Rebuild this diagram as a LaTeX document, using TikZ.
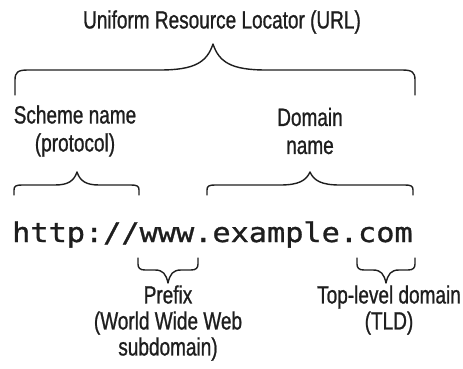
\documentclass[tikz,border=0pt]{standalone}
\usepackage{fontspec}
\newfontfamily\condfont[FakeStretch=0.76,FakeBold=0.9]{Liberation Sans}
\newfontfamily\urlfont[FakeStretch=1.12,FakeBold=1.1]{DejaVu Sans Mono}
\definecolor{ink}{HTML}{1E1E1E}
\begin{document}
\begin{tikzpicture}[x=1pt,y=-1pt,
  lbl/.style={font=\condfont\fontsize{25}{26}\selectfont, text=ink, align=center, inner sep=0pt},
  lbltop/.style={font=\condfont\fontsize{25}{28}\selectfont, text=ink, align=center, inner sep=0pt},
  brc/.style={draw=ink, line width=1.4pt, line cap=round, line join=round}]
\useasboundingbox (0,0) rectangle (463,369);
% labels
\node[lbl] (url) at (222,22) {Uniform Resource Locator (URL)};
\node[lbltop] (scheme) at (75,131) {Scheme name\\(protocol)};
\node[lbltop] (domain) at (310,131) {Domain\\name};
\node[lbl] (prefix) at (168,323) {Prefix\\(World Wide Web\\subdomain)};
\node[lbl] (tld) at (389,310) {Top-level domain\\(TLD)};
\node[font=\urlfont\fontsize{27}{30}\selectfont, text=ink, inner sep=0pt, anchor=base west] (addr) at (12,242) {http://www.example.com};
% braces
\path[brc] (15,95) -- (15,80) .. controls (15,72) and (18,70) .. (28,70) -- (160,70) .. controls (195,70) and (207,62) .. (213,44) .. controls (219,62) and (231,70) .. (266,70) -- (402,70) .. controls (412,70) and (415,72) .. (415,80) -- (415,95);
\path[brc] (14,195) -- (14,190) .. controls (14,186) and (16,185) .. (22,185) -- (55,185) .. controls (68,185) and (74,181) .. (77,172) .. controls (80,181) and (86,185) .. (99,185) -- (131,185) .. controls (137,185) and (139,186) .. (139,190) -- (139,195);
\path[brc] (207,195) -- (207,190) .. controls (207,186) and (209,185) .. (215,185) -- (280,185) .. controls (298,185) and (306,181) .. (310,172) .. controls (314,181) and (322,185) .. (340,185) -- (405,185) .. controls (411,185) and (413,186) .. (413,190) -- (413,195);
\path[brc] (138,258) -- (138,264) .. controls (138,268) and (140,270) .. (145,270) -- (155,270) .. controls (163,270) and (166,274) .. (168,283) .. controls (170,274) and (173,270) .. (181,270) -- (191,270) .. controls (196,270) and (198,268) .. (198,264) -- (198,258);
\path[brc] (357,258) -- (357,264) .. controls (357,268) and (359,270) .. (364,270) -- (373,270) .. controls (381,270) and (384,274) .. (386,283) .. controls (388,274) and (391,270) .. (399,270) -- (408,270) .. controls (413,270) and (415,268) .. (415,264) -- (415,258);
\end{tikzpicture}
\end{document}
